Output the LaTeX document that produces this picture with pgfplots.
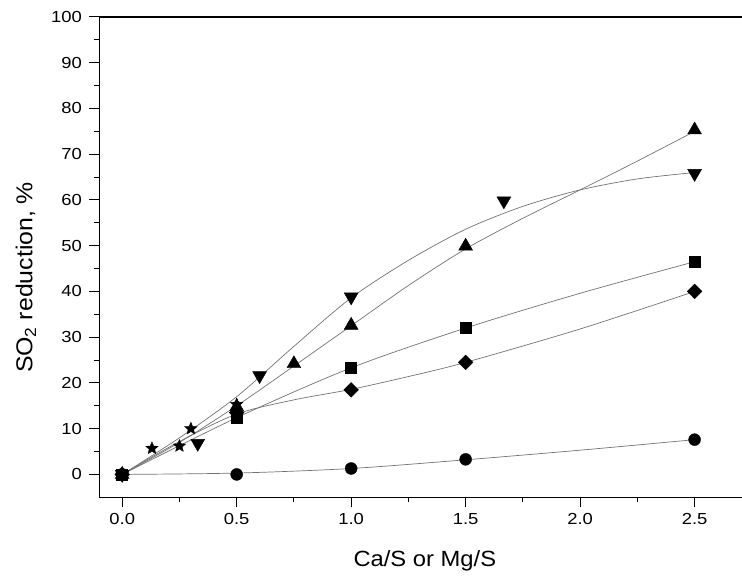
\documentclass[border=0pt]{standalone}
\usepackage{fontspec}
\setmainfont{Liberation Sans}
\newfontfamily\tickfont{Liberation Sans}[FakeStretch=1.15]
\newfontfamily\labfont{Liberation Sans}[FakeStretch=1.08]
\usepackage{pgfplots}
\pgfplotsset{compat=1.18}

% filled five-pointed star
\pgfdeclareplotmark{fstar}{%
  \pgfpathmoveto{\pgfpointpolar{90}{\pgfplotmarksize}}%
  \pgfpathlineto{\pgfpointpolar{126}{0.45\pgfplotmarksize}}%
  \pgfpathlineto{\pgfpointpolar{162}{\pgfplotmarksize}}%
  \pgfpathlineto{\pgfpointpolar{198}{0.45\pgfplotmarksize}}%
  \pgfpathlineto{\pgfpointpolar{234}{\pgfplotmarksize}}%
  \pgfpathlineto{\pgfpointpolar{270}{0.45\pgfplotmarksize}}%
  \pgfpathlineto{\pgfpointpolar{306}{\pgfplotmarksize}}%
  \pgfpathlineto{\pgfpointpolar{342}{0.45\pgfplotmarksize}}%
  \pgfpathlineto{\pgfpointpolar{18}{\pgfplotmarksize}}%
  \pgfpathlineto{\pgfpointpolar{54}{0.45\pgfplotmarksize}}%
  \pgfpathclose
  \pgfusepathqfillstroke
}

\pgfplotsset{
  fitline/.style={smooth, black!55, line width=0.7bp, no marks},
  pts/.style={only marks, mark options={draw=black, fill=black}},
}

\begin{document}
\begin{tikzpicture}
\useasboundingbox (-99.3bp,-79.7bp) rectangle (642.7bp,497.3bp);
\begin{axis}[
  at={(0,0)}, anchor=south west,
  scale only axis, width=642.7bp, height=480.3bp,
  xmin=-0.1, xmax=2.707, ymin=-5, ymax=100,
  axis y line*=left,
  xtick={0,0.5,1,1.5,2,2.5},
  xticklabels={0.0,0.5,1.0,1.5,2.0,2.5},
  minor x tick num=1,
  ytick={0,10,...,100},
  minor y tick num=1,
  xtick pos=left, ytick pos=left,
  tick align=outside,
  major tick length=10bp, minor tick length=5bp,
  tick style={black, line width=1bp},
  axis line style={black, line width=1.4bp},
  ticklabel style={font=\tickfont\fontsize{16bp}{19bp}\selectfont},
  yticklabel style={xshift=-4bp},
  xticklabel style={yshift=-3bp},
  /pgf/number format/assume math mode=true,
  xlabel={Ca/S or Mg/S},
  ylabel={SO\textsubscript{2} reduction, \%},
  every axis x label/.style={at={(axis description cs:0.5065,-0.1445)}, anchor=base,
    font=\labfont\fontsize{22bp}{26bp}\selectfont},
  every axis y label/.style={at={(axis description cs:-0.10425,0.4577)}, rotate=90, anchor=base,
    font=\labfont\fontsize{23bp}{27bp}\selectfont},
]
% fitted curves
\addplot[fitline] coordinates {(0,0) (0.25,7) (0.5,15) (0.75,23.7) (1.0,32.5) (1.25,41.3) (1.5,49.3) (1.75,56) (2.0,62.2) (2.25,68.5) (2.5,75)};
\addplot[fitline] coordinates {(0,0) (0.25,8) (0.5,17) (0.75,28) (1.0,38.6) (1.25,46.8) (1.5,53.6) (1.75,58.6) (2.0,62.2) (2.25,64.6) (2.5,66)};
\addplot[fitline] coordinates {(0,0) (0.5,12.4) (1.0,23.3) (1.5,32) (2.0,39.6) (2.5,46.5)};
\addplot[fitline] coordinates {(0,0) (0.25,7.2) (0.5,13.2) (0.75,16.3) (1.0,18.6) (1.25,21.4) (1.5,24.5) (2.0,31.8) (2.5,40)};
\addplot[fitline] coordinates {(0,0) (0.5,0.3) (1.0,1.3) (1.5,3.2) (2.0,5.3) (2.5,7.6)};
% measured points
\addplot[pts, mark=triangle*, mark size=8bp] coordinates {(0,0) (0.5,14.8) (0.75,24.2) (1.0,32.6) (1.5,49.9) (2.5,75.3)};
\addplot[pts, mark=triangle*, mark size=8bp, mark options={rotate=180}] coordinates {(0,0) (0.33,6.8) (0.6,21.6) (1.0,38.8) (1.667,59.8) (2.5,65.8)};
\addplot[pts, mark=square*, mark size=5.5bp] coordinates {(0,0) (0.5,12.5) (1.0,23.3) (1.5,32.0) (2.5,46.5)};
\addplot[pts, mark=square*, mark size=5.2bp, mark options={rotate=45}] coordinates {(0,0) (0.5,13.5) (1.0,18.5) (1.5,24.5) (2.5,40.0)};
\addplot[pts, mark=*, mark size=6bp] coordinates {(0,0) (0.5,0) (1.0,1.3) (1.5,3.3) (2.5,7.6)};
\addplot[pts, mark=fstar, mark size=6.5bp] coordinates {(0,0) (0.13,5.7) (0.25,6.2) (0.3,10.0) (0.5,15.3)};
\end{axis}
\end{tikzpicture}
\end{document}
